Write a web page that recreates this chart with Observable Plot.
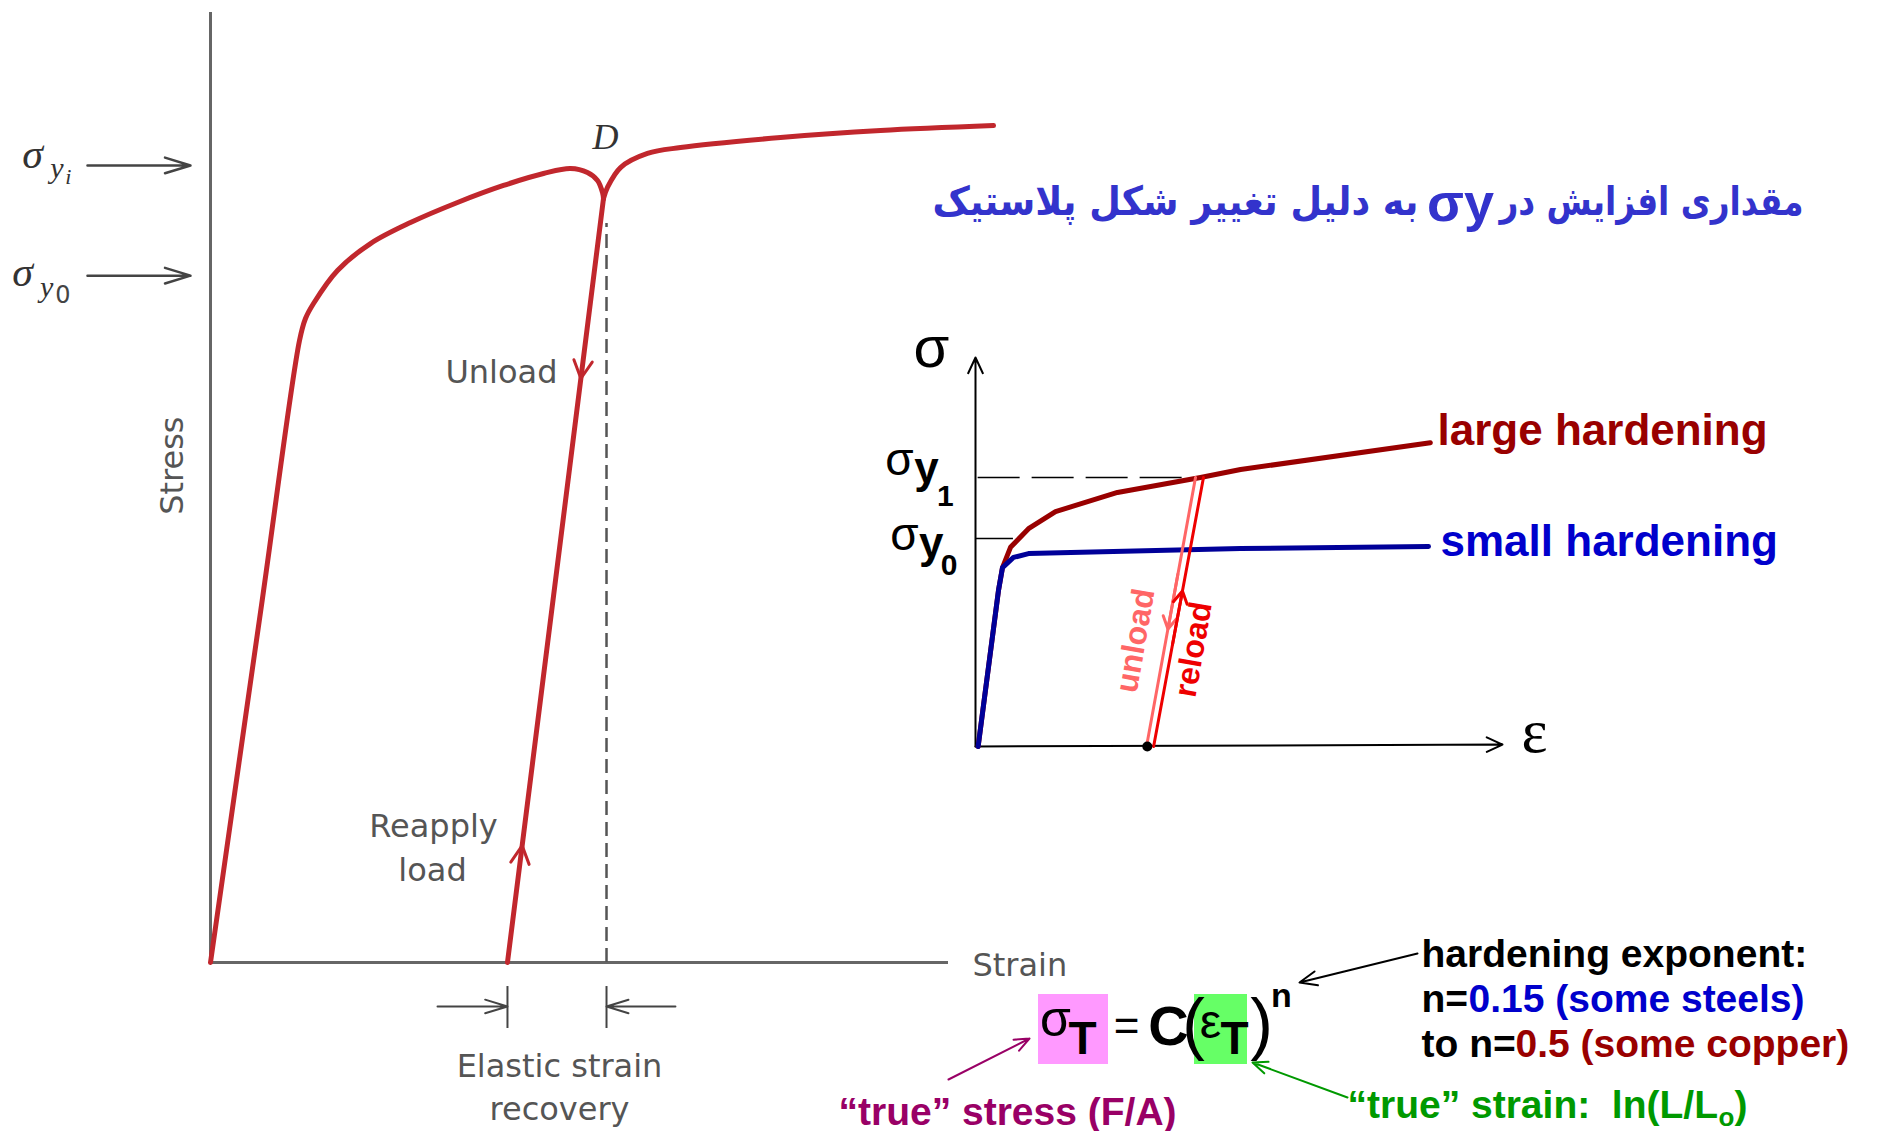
<!DOCTYPE html>
<html><head><meta charset="utf-8">
<script src="https://cdn.jsdelivr.net/npm/d3@7"></script>
<script src="https://cdn.jsdelivr.net/npm/@observablehq/plot@0.6"></script>
<style>
html,body{margin:0;padding:0;background:#fff;}
#stage{position:relative;width:1877px;height:1131px;overflow:hidden;background:#fff;}
#stage svg{position:absolute;left:0;top:0;}
</style></head><body><div id="stage"></div>
<script>
// ---------- Left chart: stress-strain with unload / reload (arbitrary units 0-100) ----------
const loadStrain   = [0, 7.0, 12.06, 12.87, 13.96, 17.21, 21.68, 27.10, 33.47, 39.70, 45.12, 48.78, 51.08, 52.44, 53.12, 53.25];
const loadStress   = [0, 38.1, 65.47, 67.79, 69.37, 72.84, 75.68, 77.89, 80.00, 81.79, 83.05, 83.58, 83.16, 82.32, 81.05, 80.42];
const unloadStrain = [53.25, 40.24];
const unloadStress = [80.42, 0];
const reloadStrain = [53.25, 53.79, 55.56, 59.21, 63.69, 77.24, 90.79, 106.1];
const reloadStress = [80.42, 81.58, 83.68, 85.16, 85.79, 86.84, 87.58, 88.1];
const yieldStressLeft = [83.9, 72.3];          // σyi, σy0
const pointDStrain = 53.66;
const pointDStress = 77.8;

// ---------- Inset chart: small vs large hardening ----------
const smallStrain = [0.5, 4.36, 5.12, 7.21, 10.06, 50.3, 85.96];
const smallStress = [0, 40.1, 46.0, 48.6, 49.6, 50.9, 51.4];
const largeStrain = [0.5, 4.36, 5.12, 6.64, 10.06, 15.18, 26.94, 42.69, 50.3, 86.3];
const largeStress = [0, 40.1, 46.0, 51.2, 56.0, 60.4, 65.3, 69.15, 71.2, 78.1];
const unloadIStrain = [41.75, 32.45];
const unloadIStress = [69.15, 0];
const reloadIStrain = [33.8, 43.26];
const reloadIStress = [0, 69.15];
const sigmaY1 = 69.15, sigmaY0 = 53.5;
const residualStrain = 32.6;

// ---------- Persian heading (two parts around σy) ----------
const headingRight = "مقداری افزایش در";
const headingLeft = "به دلیل تغییر شکل پلاستیک";

const W = 1877, H = 1131;
const RED = "#c1272d", GRAY = "#555", AX = "#666";
const zip = (xs, ys) => xs.map((x, i) => ({x, y: ys[i]}));
const along = (xs, ys, t0, t1) => ({
  x1: xs[0] + (xs[1] - xs[0]) * t0, y1: ys[0] + (ys[1] - ys[0]) * t0,
  x2: xs[0] + (xs[1] - xs[0]) * t1, y2: ys[0] + (ys[1] - ys[0]) * t1
});
const T = (s, o) => Plot.text([s], Object.assign({text: d => d, lineAnchor: "bottom"}, o));
const serifI = {fontFamily: "Liberation Serif", fontStyle: "italic", fill: "#333"};
const dv = {fontFamily: "DejaVu Sans", fontSize: 32, fill: GRAY};

const left = Plot.plot({
  width: W, height: H,
  marginLeft: 210, marginRight: 929, marginTop: 12, marginBottom: 169,
  x: {domain: [0, 100], axis: null},
  y: {domain: [0, 100], axis: null},
  style: {background: "transparent", overflow: "visible"},
  marks: [
    Plot.ruleX([0], {y1: 0, y2: 100, stroke: AX, strokeWidth: 3}),
    Plot.ruleY([0], {x1: 0, x2: 100, stroke: AX, strokeWidth: 3}),
    Plot.ruleX([pointDStrain], {y1: 0, y2: pointDStress, stroke: GRAY, strokeWidth: 2.5, strokeDasharray: "14,7"}),
    Plot.line(zip(loadStrain, loadStress), {x: "x", y: "y", stroke: RED, strokeWidth: 5, curve: "catmull-rom"}),
    Plot.line(zip(unloadStrain, unloadStress), {x: "x", y: "y", stroke: RED, strokeWidth: 5}),
    Plot.line(zip(reloadStrain, reloadStress), {x: "x", y: "y", stroke: RED, strokeWidth: 5, curve: "catmull-rom"}),
    Plot.arrow([along(unloadStrain, unloadStress, 0.14, 0.2356)], {x1: "x1", y1: "y1", x2: "x2", y2: "y2", stroke: RED, strokeWidth: 3, headLength: 10, headAngle: 55}),
    Plot.arrow([along([unloadStrain[1], unloadStrain[0]], [unloadStress[1], unloadStress[0]], 0.06, 0.153)], {x1: "x1", y1: "y1", x2: "x2", y2: "y2", stroke: RED, strokeWidth: 3, headLength: 10, headAngle: 55}),
    Plot.arrow(yieldStressLeft, {x1: -16.67, x2: -2.71, y1: d => d, y2: d => d, stroke: "#444", strokeWidth: 2.5, headLength: 16, headAngle: 34}),
    Plot.ruleX([unloadStrain[1], pointDStrain], {y1: -2.53, y2: -6.95, stroke: "#444", strokeWidth: 2}),
    Plot.arrow([{a: 30.76, b: unloadStrain[1]}, {a: 63.0, b: pointDStrain}], {x1: "a", x2: "b", y1: -4.63, y2: -4.63, stroke: "#444", strokeWidth: 2, headLength: 18, headAngle: 34}),
    T("Stress", {x: -5.15, y: 52.3, rotate: -90, lineAnchor: "middle", ...dv}),
    T("Unload", {x: 47.02, y: 60.95, textAnchor: "end", ...dv}),
    T("Reapply", {x: 30.22, y: 13.16, ...dv}),
    T("load", {x: 30.08, y: 8.63, ...dv}),
    T("Strain", {x: 103.25, y: -1.47, textAnchor: "start", ...dv}),
    T("Elastic strain", {x: 47.29, y: -12.0, ...dv}),
    T("recovery", {x: 47.29, y: -16.53, ...dv}),
    T("D", {x: 53.52, y: 85.68, fontSize: 36, ...serifI}),
    T("σ", {x: -24.12, y: 83.58, fontSize: 42, ...serifI}),
    T("y", {x: -20.8, y: 82.53, fontSize: 30, ...serifI}),
    T("i", {x: -19.25, y: 81.9, fontSize: 22, ...serifI}),
    T("σ", {x: -25.47, y: 71.26, fontSize: 42, ...serifI}),
    T("y", {x: -22.2, y: 70.1, fontSize: 30, ...serifI}),
    T("0", {x: -20.0, y: 69.37, fontSize: 24, fontFamily: "DejaVu Sans", fill: "#444"})
  ]
});

const ar = {fontFamily: "Liberation Sans, Arial, sans-serif"};
const inset = Plot.plot({
  width: W, height: H,
  marginLeft: 975, marginRight: 375, marginTop: 357, marginBottom: 385,
  x: {domain: [0, 100], axis: null},
  y: {domain: [0, 100], axis: null},
  style: {background: "transparent", overflow: "visible"},
  marks: [
    Plot.arrow([0], {x1: 0, y1: 0, x2: 0, y2: 100, stroke: "#000", strokeWidth: 2, headLength: 13, headAngle: 50}),
    Plot.arrow([0], {x1: 0, y1: 0, x2: 100, y2: 0.5, stroke: "#000", strokeWidth: 2, headLength: 13, headAngle: 50}),
    Plot.ruleY([sigmaY1], {x1: 0.5, x2: 39.5, stroke: "#000", strokeWidth: 1.5, strokeDasharray: "42,12"}),
    Plot.ruleY([sigmaY0], {x1: 0, x2: 7.2, stroke: "#000", strokeWidth: 1.5}),
    Plot.line(zip(largeStrain, largeStress), {x: "x", y: "y", stroke: "#990000", strokeWidth: 5}),
    Plot.line(zip(smallStrain, smallStress), {x: "x", y: "y", stroke: "#000099", strokeWidth: 5}),
    Plot.line(zip(unloadIStrain, unloadIStress), {x: "x", y: "y", stroke: "#ff6666", strokeWidth: 3}),
    Plot.line(zip(reloadIStrain, reloadIStress), {x: "x", y: "y", stroke: "#ee0000", strokeWidth: 3}),
    Plot.arrow([along(unloadIStrain, unloadIStress, 0.36, 0.563)], {x1: "x1", y1: "y1", x2: "x2", y2: "y2", stroke: "#ff6666", strokeWidth: 3, headLength: 7, headAngle: 60}),
    Plot.arrow([along(reloadIStrain, reloadIStress, 0.38, 0.578)], {x1: "x1", y1: "y1", x2: "x2", y2: "y2", stroke: "#ee0000", strokeWidth: 3, headLength: 7, headAngle: 60}),
    Plot.dot([residualStrain], {x: d => d, y: 0, r: 5, fill: "#000"}),
    T("σ", {x: -8.35, y: 97.43, fontSize: 58, ...ar, fill: "#000"}),
    T("ε", {x: 106.07, y: -1.54, fontSize: 62, fontFamily: "Liberation Serif", fill: "#000"}),
    T("σ", {x: -14.42, y: 69.67, fontSize: 46, ...ar, fill: "#000"}),
    T("y", {x: -9.3, y: 67.61, fontSize: 44, fontWeight: "bold", ...ar, fill: "#000"}),
    T("1", {x: -5.7, y: 61.95, fontSize: 30, fontWeight: "bold", ...ar, fill: "#000"}),
    T("σ", {x: -13.47, y: 50.39, fontSize: 46, ...ar, fill: "#000"}),
    T("y", {x: -8.4, y: 48.33, fontSize: 44, fontWeight: "bold", ...ar, fill: "#000"}),
    T("0", {x: -5.0, y: 43.96, fontSize: 30, fontWeight: "bold", ...ar, fill: "#000"}),
    T("large hardening", {x: 87.67, y: 77.38, textAnchor: "start", fontSize: 44, fontWeight: "bold", ...ar, fill: "#990000"}),
    T("small hardening", {x: 88.24, y: 49.1, textAnchor: "start", fontSize: 44, fontWeight: "bold", ...ar, fill: "#0000cc"}),
    T("unload", {x: 30.36, y: 27.25, rotate: -80, lineAnchor: "middle", fontSize: 32, fontWeight: "bold", ...ar, fill: "#ff6666"}),
    T("reload", {x: 41.37, y: 24.94, rotate: -80, lineAnchor: "middle", fontSize: 32, fontWeight: "bold", ...ar, fill: "#ee0000"})
  ]
});

// ---------- Annotation layer (slide coordinates) ----------
const fa = {fontFamily: "Liberation Sans, Arial, sans-serif", fill: "#000"};
const fb = {fontFamily: "Liberation Sans, Arial, sans-serif", fontWeight: "bold", fontSize: 39, textAnchor: "start"};
const fa2 = {fontFamily: "DejaVu Sans", fontWeight: "bold", fontSize: 40, fill: "#3333cc"};
const notes = Plot.plot({
  width: W, height: H, margin: 0,
  x: {domain: [0, W], range: [0, W], axis: null},
  y: {domain: [0, H], range: [0, H], axis: null},
  style: {background: "transparent", overflow: "visible"},
  marks: [
    T(headingRight, {x: 1651, y: 214, ...fa2}),
    T("σy", {x: 1460, y: 220, fontSize: 54, fontWeight: "bold", ...ar, fill: "#3333cc"}),
    T(headingLeft, {x: 1175, y: 214, ...fa2}),
    Plot.rect([0], {x1: 1038, x2: 1108, y1: 994, y2: 1064, fill: "#ff99ff"}),
    Plot.rect([0], {x1: 1194, x2: 1247, y1: 994, y2: 1064, fill: "#66ff66"}),
    T("σ", {x: 1055, y: 1035, fontSize: 50, ...fa}),
    T("T", {x: 1082, y: 1053, fontSize: 46, fontWeight: "bold", ...fa}),
    T("=", {x: 1126, y: 1040, fontSize: 44, ...fa}),
    T("C", {x: 1168, y: 1044, fontSize: 56, fontWeight: "bold", ...fa}),
    T("(", {x: 1193, y: 1046, fontSize: 68, ...fa}),
    T("ε", {x: 1210, y: 1037, fontSize: 48, ...fa}),
    T("T", {x: 1234, y: 1053, fontSize: 46, fontWeight: "bold", ...fa}),
    T(")", {x: 1261, y: 1046, fontSize: 68, ...fa}),
    T("n", {x: 1281, y: 1006, fontSize: 34, fontWeight: "bold", ...fa}),
    T("hardening exponent:", {x: 1421, y: 966, ...fb, fill: "#000"}),
    T("n=", {x: 1421, y: 1011, ...fb, fill: "#000"}),
    T("0.15 (some steels)", {x: 1468, y: 1011, ...fb, fill: "#0000cc"}),
    T("to n=", {x: 1421, y: 1056, ...fb, fill: "#000"}),
    T("0.5 (some copper)", {x: 1515, y: 1056, ...fb, fill: "#990000"}),
    T("“true” stress (F/A)", {x: 838, y: 1124, ...fb, fill: "#990066"}),
    T("“true” strain:\u00a0 ln(L/L", {x: 1347, y: 1117, ...fb, fill: "#009900"}),
    T("o", {x: 1718, y: 1125, ...fb, fontSize: 26, fill: "#009900"}),
    T(")", {x: 1734, y: 1117, ...fb, fill: "#009900"}),
    Plot.arrow([0], {x1: 1417, y1: 953, x2: 1299, y2: 982, stroke: "#000", strokeWidth: 2, headLength: 14, headAngle: 45}),
    Plot.arrow([0], {x1: 948, y1: 1079, x2: 1029, y2: 1038, stroke: "#990066", strokeWidth: 2, headLength: 12, headAngle: 45}),
    Plot.arrow([0], {x1: 1347, y1: 1097, x2: 1252, y2: 1062, stroke: "#009900", strokeWidth: 2, headLength: 12, headAngle: 45})
  ]
});

// fit the two Persian heading parts to the widths they occupy in the slide
d3.select(notes).selectAll("text")
  .filter(function () { return this.textContent === headingRight; })
  .attr("textLength", 304).attr("lengthAdjust", "spacingAndGlyphs");
d3.select(notes).selectAll("text")
  .filter(function () { return this.textContent === headingLeft; })
  .attr("textLength", 486).attr("lengthAdjust", "spacingAndGlyphs");

document.getElementById("stage").append(left, inset, notes);
</script></body></html>
